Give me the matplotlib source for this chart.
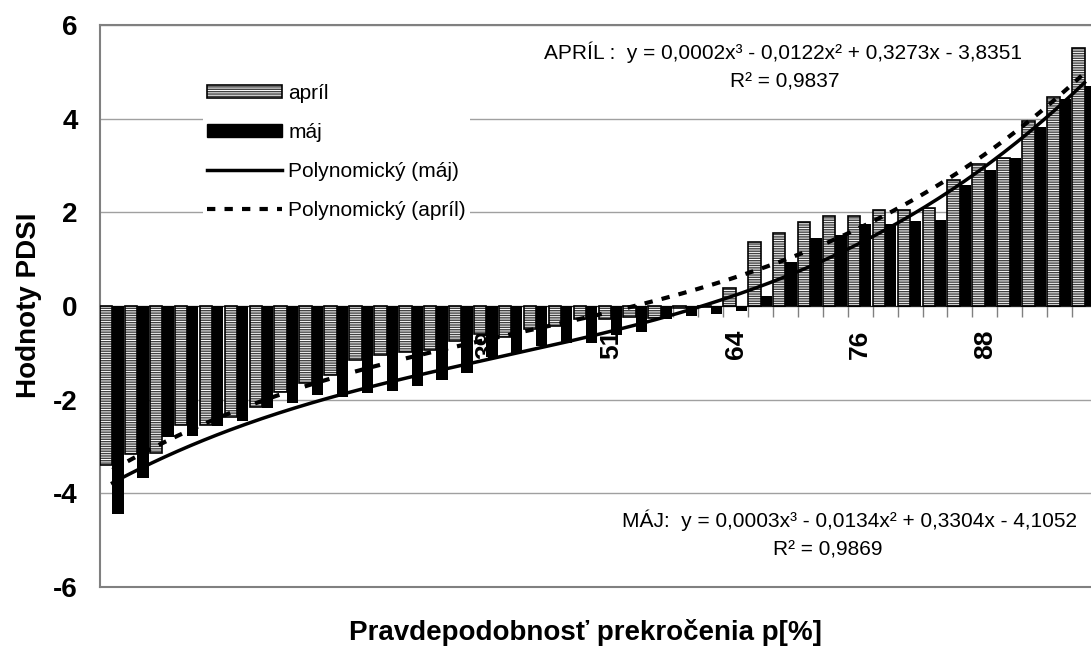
import numpy as np
import matplotlib
matplotlib.use("Agg")
import matplotlib.pyplot as plt
from matplotlib.patches import Patch
from matplotlib.lines import Line2D

plt.rcParams['font.family'] = ['Liberation Sans', 'DejaVu Sans']
plt.rcParams['hatch.linewidth'] = 1.0
plt.rcParams['axes.unicode_minus'] = False

# Hodnoty PDSI zoradene podla pravdepodobnosti prekrocenia (40 rokov)
april = [-3.40, -3.15, -3.13, -2.55, -2.55, -2.37, -2.15, -1.83, -1.65, -1.47,
         -1.15, -1.05, -0.98, -0.95, -0.75, -0.60, -0.66, -0.50, -0.42, -0.28,
         -0.28, -0.24, -0.26, -0.05, -0.03, 0.39, 1.37, 1.55, 1.80, 1.93,
         1.93, 2.05, 2.05, 2.09, 2.70, 3.03, 3.17, 3.94, 4.46, 5.51]
maj = [-4.45, -3.68, -2.80, -2.78, -2.57, -2.46, -2.17, -2.07, -1.90, -1.94,
       -1.85, -1.82, -1.71, -1.57, -1.43, -1.08, -1.00, -0.85, -0.78, -0.78,
       -0.62, -0.55, -0.28, -0.21, -0.18, -0.11, 0.22, 0.95, 1.46, 1.51,
       1.75, 1.75, 1.82, 1.84, 2.58, 2.91, 3.17, 3.82, 4.41, 4.70]
popisky_x = ["2", "14", "26", "39", "51", "64", "76", "88"]
krok_popisov = 5

rovnica_april = "APRÍL :  y = 0,0002x³ - 0,0122x² + 0,3273x - 3,8351"
r2_april = "R² = 0,9837"
rovnica_maj = "MÁJ:  y = 0,0003x³ - 0,0134x² + 0,3304x - 4,1052"
r2_maj = "R² = 0,9869"

n = len(april)
poradie = np.arange(1, n + 1)

W, H = 1091, 657
fig = plt.figure(figsize=(W / 100, H / 100), dpi=100)
# plocha grafu presahuje pravy okraj obrazka (posledny stlpec je orezany)
ax = fig.add_axes([100 / W, 1 - 587 / H, 997 / W, 562 / H])

# os x prechadza nulou - nastavit skor ako ticky (inak sa resetuju)
ax.spines['bottom'].set_position(('data', 0))
ax.spines['bottom'].set_color('#202020')

# stlpce - april (srafovany) a maj (cierny)
srafa = '-------'
ax.bar(poradie - 1, april, width=0.5, align='edge', facecolor='white',
       edgecolor='#404040', hatch=srafa, linewidth=0, zorder=3)
ax.bar(poradie - 1, april, width=0.5, align='edge', facecolor='none',
       edgecolor='black', linewidth=1.2, zorder=3.1)
ax.bar(poradie - 0.5, maj, width=0.45, align='edge', color='black', zorder=3.2)

# polynomicke trendy 3. stupna
xs = np.linspace(1, n, 300)
koef_maj = np.polyfit(poradie, maj, 3)
koef_april = np.polyfit(poradie, april, 3)
ax.plot(xs - 0.5, np.polyval(koef_maj, xs), color='black', lw=2.5, zorder=4)
ax.plot(xs - 0.5, np.polyval(koef_april, xs), color='black', lw=3,
        linestyle=(0, (2, 2.2)), zorder=4)

ax.set_xlim(0, n)
ax.set_ylim(-6, 6)
ax.set_yticks(range(-6, 7, 2))
ax.tick_params(axis='y', length=0, pad=16, labelsize=20)
for t in ax.get_yticklabels():
    t.set_fontweight('bold')

ax.set_xticks(np.arange(0, n + 1))
ax.set_xticklabels([])
ax.set_xticks(np.arange(0, n, krok_popisov) + 0.5, minor=True)
ax.set_xticklabels(popisky_x, minor=True)
ax.tick_params(axis='x', which='major', length=8, color='#808080', width=1)
ax.tick_params(axis='x', which='minor', length=0, pad=17, labelsize=19,
               labelrotation=90)
for t in ax.get_xticklabels(minor=True):
    t.set_fontweight('bold')

ax.yaxis.grid(True, color='#a0a0a0', lw=1)
ax.set_axisbelow(True)
for s in ['left', 'top', 'right']:
    ax.spines[s].set_color('#808080')
    ax.spines[s].set_linewidth(1.5)
ax.axhline(-6, color='#808080', lw=1.5, clip_on=False, zorder=2.5)

# popisy osi
fig.text(29 / W, 1 - 305 / H, "Hodnoty PDSI", rotation=90, ha='center',
         va='center', fontsize=20, fontweight='bold')
fig.text(585 / W, 1 - 633 / H, "Pravdepodobnosť prekročenia p[%]",
         ha='center', va='center', fontsize=20, fontweight='bold')

# rovnice trendov
fig.text(783 / W, 1 - 52 / H, rovnica_april, ha='center', va='center', fontsize=15)
fig.text(785 / W, 1 - 82 / H, r2_april, ha='center', va='center', fontsize=15)
fig.text(1077 / W, 1 - 520 / H, rovnica_maj, ha='right', va='center', fontsize=15)
fig.text(828 / W, 1 - 550 / H, r2_maj, ha='center', va='center', fontsize=15)

# legenda
h_april = (Patch(facecolor='white', edgecolor='#404040', hatch=srafa, lw=0),
           Patch(facecolor='none', edgecolor='black', lw=1.2))
h_maj = Patch(facecolor='black', edgecolor='black')
h_tr_maj = Line2D([], [], color='black', lw=2.5)
h_tr_apr = Line2D([], [], color='black', lw=3, linestyle=(0, (2, 2.2)))
leg = ax.legend([h_april, h_maj, h_tr_maj, h_tr_apr],
                ["apríl", "máj", "Polynomický (máj)", "Polynomický (apríl)"],
                loc='upper left', bbox_to_anchor=(203 / W, 1 - 80 / H),
                bbox_transform=fig.transFigure, fontsize=15, frameon=True,
                fancybox=False, framealpha=1, facecolor='white',
                edgecolor='none', handlelength=3.6, handleheight=0.6,
                handletextpad=0.3, labelspacing=0.95, borderpad=0.2,
                borderaxespad=0)
leg.set_zorder(5)

fig.savefig("out.png", dpi=100)
